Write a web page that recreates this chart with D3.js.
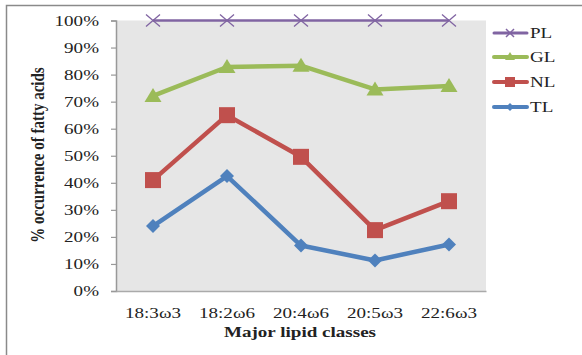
<!DOCTYPE html>
<html><head><meta charset="utf-8">
<script src="https://cdn.jsdelivr.net/npm/d3@7"></script>
<style>body{margin:0;background:#fff}svg{display:block}text{font-family:"Liberation Serif","Times New Roman",serif;fill:#222}</style>
</head><body><svg id="c" width="582" height="355"></svg>
<script>
const categories = ["18:3\u03c93","18:2\u03c96","20:4\u03c96","20:5\u03c93","22:6\u03c93"];
const seriesNames = ["PL","GL","NL","TL"];
const PL = [100,100,100,100,100];
const GL = [72.1,82.8,83.3,74.5,75.8];
const NL = [41.0,65.0,49.6,22.5,33.2];
const TL = [24.0,42.5,16.8,11.3,17.2];
const yTicks = [0,10,20,30,40,50,60,70,80,90,100];
const colors = {PL:"#8064A2",GL:"#9BBB59",NL:"#C0504D",TL:"#4F81BD"};
const dataMap = {PL,GL,NL,TL};
const stretch = 1.27;

const svg = d3.select("#c");
svg.append("rect").attr("x",6.5).attr("y",5.5).attr("width",620).attr("height",400)
  .attr("fill","none").attr("stroke","#8a8a8a").attr("stroke-width",1.5);

const L=116,R=486,T=20.5,B=291;
const x = d3.scaleBand().domain(categories).range([L,R]);
const y = d3.scaleLinear().domain([0,100]).range([B,T]);
svg.append("rect").attr("x",L).attr("y",T).attr("width",R-L).attr("height",B-T).attr("fill","#e6e6e6");

function widen(sel){ sel.each(function(){ const w=this.getComputedTextLength(); d3.select(this).attr("textLength",w*stretch).attr("lengthAdjust","spacingAndGlyphs");}); }

const ya = svg.append("g").attr("transform",`translate(${L},0)`)
  .call(d3.axisLeft(y).tickValues(yTicks).tickFormat(d=>d+"%").tickSize(5).tickPadding(12));
ya.select(".domain").attr("stroke","#999").attr("stroke-width",1.5);
ya.selectAll(".tick line").attr("stroke","#999").attr("stroke-width",1.2);
ya.selectAll("text").attr("font-size",15).attr("fill","#222").style("font-family","Liberation Serif").call(widen);

const xa = svg.append("g").attr("transform",`translate(0,${B})`)
  .call(d3.axisBottom(x).tickSize(0).tickPadding(16));
xa.select(".domain").attr("stroke","#aaa").attr("stroke-width",1.5);
xa.selectAll("text").attr("font-size",15).attr("fill","#222").style("font-family","Liberation Serif").call(widen);

function marker(g,name,cx,cy){
  const c=colors[name];
  if(name==="TL") g.append("path").attr("d",`M${cx},${cy-7}L${cx+7},${cy}L${cx},${cy+7}L${cx-7},${cy}Z`).attr("fill",c);
  else if(name==="NL") g.append("rect").attr("x",cx-8).attr("y",cy-8).attr("width",16).attr("height",16).attr("fill",c);
  else if(name==="GL") g.append("path").attr("d",`M${cx},${cy-8}L${cx+8.5},${cy+6}L${cx-8.5},${cy+6}Z`).attr("fill",c);
  else g.append("path").attr("d",`M${cx-7},${cy-6}L${cx+7},${cy+6}M${cx-7},${cy+6}L${cx+7},${cy-6}`).attr("stroke",c).attr("stroke-width",1.3).attr("fill","none");
}

const line = d3.line().x((d,i)=>x(categories[i])+x.bandwidth()/2).y(d=>y(d));
["TL","NL","GL","PL"].forEach(name=>{
  const g=svg.append("g");
  g.append("path").datum(dataMap[name]).attr("d",line).attr("fill","none")
    .attr("stroke",colors[name]).attr("stroke-width",name==="PL"?2.5:4.5).attr("stroke-linejoin","round");
  dataMap[name].forEach((v,i)=>marker(g,name,x(categories[i])+x.bandwidth()/2,y(v)));
});

// legend
const legY = [33,57,82,107];
seriesNames.forEach((name,i)=>{
  const g=svg.append("g");
  g.append("line").attr("x1",494).attr("x2",527).attr("y1",legY[i]).attr("y2",legY[i])
    .attr("stroke",colors[name]).attr("stroke-width",name==="PL"?3:4).attr("stroke-linecap","round");
  const c=colors[name], cx=510, cy=legY[i];
  if(name==="PL") g.append("path").attr("d",`M${cx-4},${cy-4}L${cx+4},${cy+4}M${cx-4},${cy+4}L${cx+4},${cy-4}`).attr("stroke",c).attr("stroke-width",1.5);
  else if(name==="GL") g.append("path").attr("d",`M${cx},${cy-5}L${cx+5},${cy+3}L${cx-5},${cy+3}Z`).attr("fill",c);
  else if(name==="NL") g.append("rect").attr("x",cx-5).attr("y",cy-5).attr("width",10).attr("height",10).attr("fill",c);
  else g.append("path").attr("d",`M${cx},${cy-4}L${cx+4},${cy}L${cx},${cy+4}L${cx-4},${cy}Z`).attr("fill",c);
  g.append("text").attr("x",530).attr("y",cy+5).attr("font-size",15).text(name).call(widen);
});

// axis titles
svg.append("text").attr("x",300).attr("y",337).attr("text-anchor","middle")
  .attr("font-size",15).attr("font-weight","bold").text("Major lipid classes").call(widen);
svg.append("text").attr("transform","translate(44,155) scale(1.27,1) rotate(-90)").attr("text-anchor","middle")
  .attr("font-size",15).attr("font-weight","bold").text("% occurrence of fatty acids");
</script></body></html>
